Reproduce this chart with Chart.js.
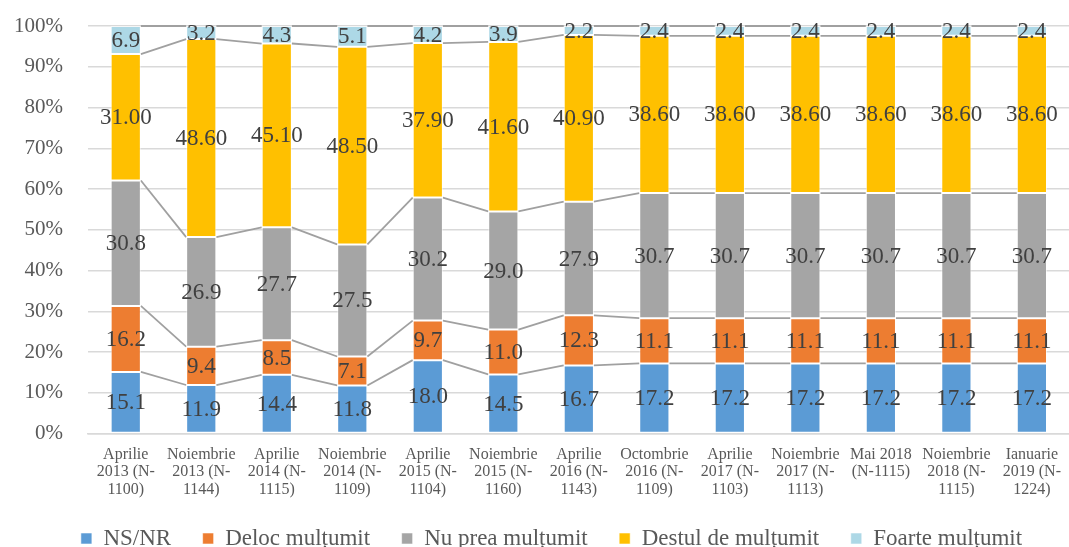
<!DOCTYPE html>
<html>
<head>
<meta charset="utf-8">
<script src="https://cdn.jsdelivr.net/npm/chart.js@4/dist/chart.umd.min.js"></script>
<style>
  html, body { margin: 0; padding: 0; overflow: hidden; background: #ffffff; }
  canvas { display: block; }
</style>
</head>
<body>
<canvas id="chart" width="1073" height="564"></canvas>
<script>
// Survey waves (x-axis categories, split over lines)
const categories = [
  ["Aprilie", "2013 (N-", "1100)"],
  ["Noiembrie", "2013 (N-", "1144)"],
  ["Aprilie", "2014 (N-", "1115)"],
  ["Noiembrie", "2014 (N-", "1109)"],
  ["Aprilie", "2015 (N-", "1104)"],
  ["Noiembrie", "2015 (N-", "1160)"],
  ["Aprilie", "2016 (N-", "1143)"],
  ["Octombrie", "2016 (N-", "1109)"],
  ["Aprilie", "2017 (N-", "1103)"],
  ["Noiembrie", "2017 (N-", "1113)"],
  ["Mai 2018", "(N-1115)"],
  ["Noiembrie", "2018 (N-", "1115)"],
  ["Ianuarie", "2019 (N-", "1224)"]
];

// Answer shares per wave (%)
const nsNr           = [15.1, 11.9, 14.4, 11.8, 18.0, 14.5, 16.7, 17.2, 17.2, 17.2, 17.2, 17.2, 17.2];
const delocMultumit  = [16.2, 9.4, 8.5, 7.1, 9.7, 11.0, 12.3, 11.1, 11.1, 11.1, 11.1, 11.1, 11.1];
const nuPreaMultumit = [30.8, 26.9, 27.7, 27.5, 30.2, 29.0, 27.9, 30.7, 30.7, 30.7, 30.7, 30.7, 30.7];
const destulMultumit = [31.00, 48.60, 45.10, 48.50, 37.90, 41.60, 40.90, 38.60, 38.60, 38.60, 38.60, 38.60, 38.60];
const foarteMultumit = [6.9, 3.2, 4.3, 5.1, 4.2, 3.9, 2.2, 2.4, 2.4, 2.4, 2.4, 2.4, 2.4];

// Y-axis range and step (%)
const yMin = 0;
const yMax = 100;
const yStep = 10;

const FONT = "'Liberation Serif', 'Times New Roman', serif";

// Connector lines between the tops of matching segments of neighbouring bars
const seriesLines = {
  id: 'seriesLines',
  beforeDatasetsDraw(chart) {
    const ctx = chart.ctx;
    ctx.save();
    ctx.strokeStyle = '#a0a0a0';
    ctx.lineWidth = 1.8;
    chart.data.datasets.forEach((ds, d) => {
      const meta = chart.getDatasetMeta(d);
      for (let i = 0; i < meta.data.length - 1; i++) {
        const a = meta.data[i], b = meta.data[i + 1];
        ctx.beginPath();
        ctx.moveTo(a.x + a.width / 2, a.y);
        ctx.lineTo(b.x - b.width / 2, b.y);
        ctx.stroke();
      }
    });
    ctx.restore();
  }
};

// Value labels centred in each segment
const valueLabels = {
  id: 'valueLabels',
  afterDatasetsDraw(chart) {
    const ctx = chart.ctx;
    ctx.save();
    ctx.font = "23px " + FONT;
    ctx.fillStyle = '#404040';
    ctx.textAlign = 'center';
    ctx.textBaseline = 'middle';
    chart.data.datasets.forEach((ds, d) => {
      const meta = chart.getDatasetMeta(d);
      meta.data.forEach((el, i) => {
        const txt = ds.data[i].toFixed(ds.decimals);
        ctx.fillText(txt, el.x, (el.y + el.base) / 2 + 1);
      });
    });
    ctx.restore();
  }
};

// Nudge the legend row so it sits under the plot area
const legendOffset = {
  id: 'legendOffset',
  afterLayout(chart) {
    const lg = chart.legend;
    if (!lg) return;
    lg.left += 15; lg.right += 15;
    lg.top -= 4; lg.bottom -= 4;
  }
};

const mkSet = (label, data, color, decimals) => ({
  label, data, decimals,
  backgroundColor: color,
  borderColor: 'rgba(255,255,255,0.55)',
  borderWidth: 1,
  borderSkipped: false,
  barPercentage: 0.4,
  categoryPercentage: 1.0
});

new Chart(document.getElementById('chart'), {
  type: 'bar',
  data: {
    labels: categories,
    datasets: [
      mkSet('NS/NR', nsNr, '#5b9bd5', 1),
      mkSet('Deloc mulțumit', delocMultumit, '#ed7d31', 1),
      mkSet('Nu prea mulțumit', nuPreaMultumit, '#a5a5a5', 1),
      mkSet('Destul de mulțumit', destulMultumit, '#ffc000', 2),
      mkSet('Foarte mulțumit', foarteMultumit, '#add8e6', 1)
    ]
  },
  options: {
    responsive: false,
    animation: false,
    layout: { autoPadding: false, padding: { left: 0, right: 0, top: 26, bottom: 0 } },
    plugins: {
      tooltip: { enabled: false },
      legend: {
        position: 'bottom',
        labels: {
          boxWidth: 11,
          boxHeight: 11,
          padding: 31.5,
          color: '#595959',
          font: { family: FONT, size: 23 }
        }
      }
    },
    scales: {
      x: {
        stacked: true,
        afterFit(scale) { scale.height = 66; },
        grid: { display: false, drawTicks: false },
        border: { color: '#d9d9d9', width: 1.5 },
        ticks: {
          autoSkip: false,
          maxRotation: 0,
          padding: 12,
          color: '#595959',
          font: { family: FONT, size: 16, lineHeight: 1.1 }
        }
      },
      y: {
        stacked: true,
        min: yMin,
        max: yMax,
        afterFit(scale) {
          scale.width = 88;
          scale.paddingTop = 0;
          scale.paddingBottom = 0;
        },
        grid: { color: '#d9d9d9', lineWidth: 1.5, drawTicks: false },
        border: { display: false },
        ticks: {
          stepSize: yStep,
          padding: 25,
          color: '#595959',
          font: { family: FONT, size: 21 },
          callback: v => v + '%'
        }
      }
    }
  },
  plugins: [seriesLines, valueLabels, legendOffset]
});
</script>
</body>
</html>
